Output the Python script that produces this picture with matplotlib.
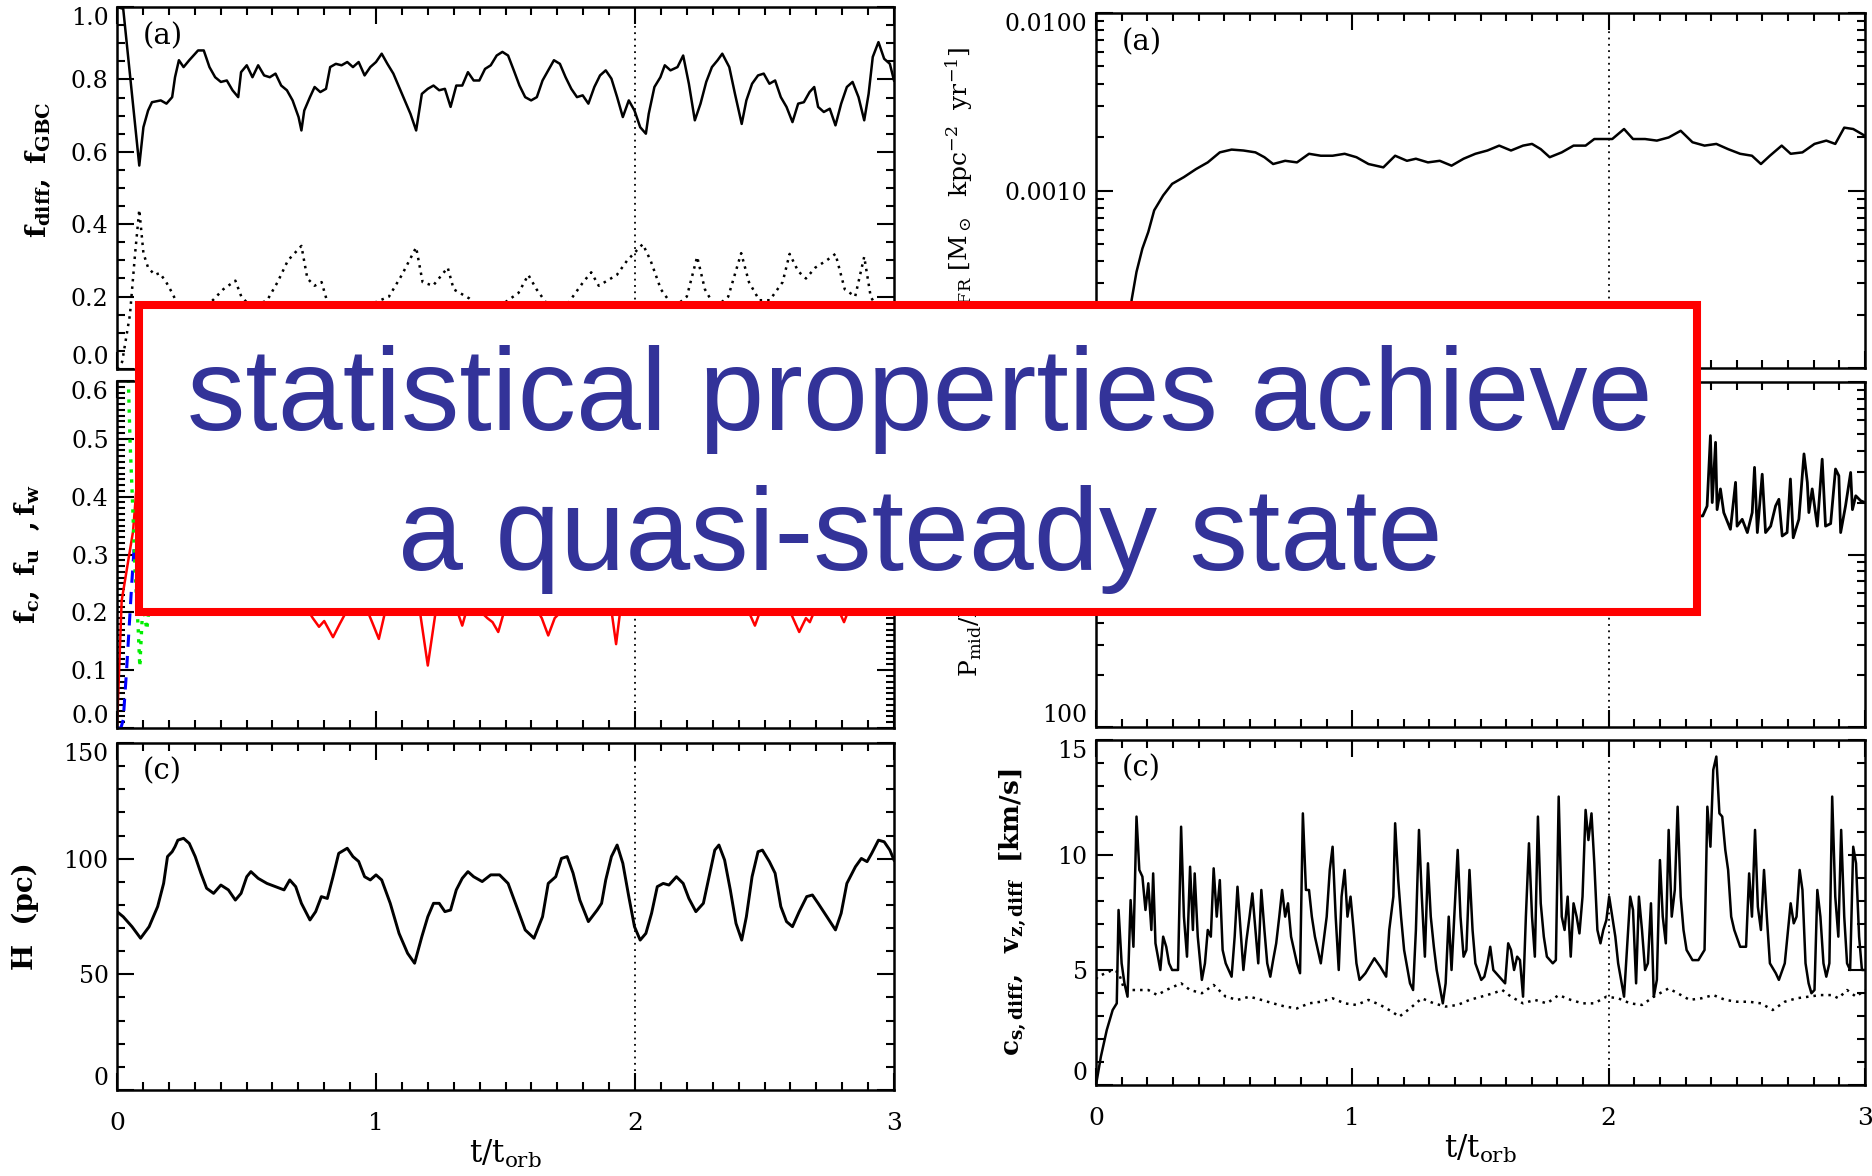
import numpy as np
import matplotlib
matplotlib.use('Agg')
import matplotlib.pyplot as plt
from matplotlib.patches import Rectangle
from matplotlib.ticker import FixedLocator, FuncFormatter

plt.rcParams['font.family'] = ['DejaVu Serif']
plt.rcParams['mathtext.fontset'] = 'dejavuserif'

# ---------------- data, time in units of t_orb ----------------
# left (a): f_diff (solid) and f_GBC (dotted)
fDiff = [(0.0, 1.0), (0.024, 0.995), (0.086, 0.562), (0.102, 0.668), (0.120, 0.714), (0.135, 0.737),
         (0.169, 0.742), (0.191, 0.733), (0.213, 0.751), (0.224, 0.806), (0.239, 0.853), (0.257, 0.834),
         (0.279, 0.853), (0.313, 0.880), (0.335, 0.880), (0.357, 0.834), (0.379, 0.806), (0.401, 0.793),
         (0.424, 0.797), (0.446, 0.770), (0.468, 0.751), (0.479, 0.820), (0.501, 0.839), (0.523, 0.806),
         (0.545, 0.839), (0.568, 0.811), (0.590, 0.806), (0.612, 0.816), (0.634, 0.783), (0.656, 0.770),
         (0.678, 0.742), (0.701, 0.696), (0.712, 0.659), (0.723, 0.714), (0.745, 0.751), (0.763, 0.779),
         (0.785, 0.765), (0.807, 0.774), (0.823, 0.834), (0.845, 0.843), (0.867, 0.839), (0.889, 0.848),
         (0.911, 0.834), (0.933, 0.848), (0.956, 0.811), (0.978, 0.834), (1.000, 0.848), (1.022, 0.871),
         (1.044, 0.843), (1.067, 0.816), (1.089, 0.779), (1.111, 0.742), (1.133, 0.705), (1.155, 0.659),
         (1.177, 0.760), (1.200, 0.774), (1.222, 0.783), (1.244, 0.770), (1.266, 0.774), (1.288, 0.724),
         (1.310, 0.783), (1.333, 0.783), (1.355, 0.820), (1.377, 0.797), (1.399, 0.797), (1.421, 0.829),
         (1.443, 0.839), (1.466, 0.866), (1.488, 0.876), (1.510, 0.866), (1.532, 0.825), (1.554, 0.783),
         (1.576, 0.751), (1.599, 0.742), (1.621, 0.751), (1.643, 0.797), (1.665, 0.825), (1.687, 0.853),
         (1.710, 0.843), (1.732, 0.806), (1.754, 0.774), (1.776, 0.751), (1.798, 0.756), (1.820, 0.733),
         (1.843, 0.779), (1.865, 0.811), (1.887, 0.825), (1.909, 0.802), (1.931, 0.751), (1.953, 0.696),
         (1.976, 0.742), (1.998, 0.714), (2.020, 0.668), (2.042, 0.650), (2.053, 0.705), (2.075, 0.779),
         (2.098, 0.806), (2.115, 0.839), (2.137, 0.825), (2.164, 0.834), (2.186, 0.866), (2.208, 0.788),
         (2.231, 0.687), (2.253, 0.733), (2.275, 0.793), (2.297, 0.834), (2.319, 0.853), (2.337, 0.871),
         (2.364, 0.834), (2.386, 0.760), (2.412, 0.677), (2.430, 0.742), (2.452, 0.788), (2.475, 0.811),
         (2.497, 0.816), (2.519, 0.788), (2.541, 0.797), (2.563, 0.751), (2.585, 0.724), (2.608, 0.682),
         (2.630, 0.733), (2.652, 0.737), (2.674, 0.765), (2.692, 0.779), (2.707, 0.724), (2.729, 0.710),
         (2.752, 0.719), (2.774, 0.673), (2.796, 0.733), (2.818, 0.779), (2.840, 0.793), (2.863, 0.751),
         (2.885, 0.687), (2.902, 0.760), (2.918, 0.862), (2.940, 0.903), (2.962, 0.857), (2.984, 0.843),
         (3.000, 0.797)]

fGbc = [(0.0, 0.0), (0.02, 0.02), (0.05, 0.15), (0.07, 0.32), (0.086, 0.44), (0.102, 0.32), (0.12, 0.28),
        (0.146, 0.26), (0.165, 0.265), (0.19, 0.24), (0.213, 0.21), (0.24, 0.17), (0.30, 0.15), (0.37, 0.19),
        (0.41, 0.22), (0.457, 0.244), (0.48, 0.20), (0.52, 0.17), (0.58, 0.19), (0.62, 0.24), (0.66, 0.30),
        (0.712, 0.34), (0.735, 0.25), (0.763, 0.23), (0.79, 0.24), (0.81, 0.19), (0.88, 0.15), (0.95, 0.17),
        (1.05, 0.20), (1.10, 0.26), (1.155, 0.336), (1.18, 0.24), (1.22, 0.23), (1.277, 0.28), (1.30, 0.22),
        (1.36, 0.195), (1.40, 0.17), (1.45, 0.16), (1.55, 0.21), (1.588, 0.26), (1.62, 0.22), (1.66, 0.18),
        (1.72, 0.16), (1.77, 0.21), (1.80, 0.24), (1.831, 0.267), (1.86, 0.23), (1.93, 0.26), (1.97, 0.30),
        (2.03, 0.345), (2.06, 0.30), (2.10, 0.22), (2.15, 0.17), (2.20, 0.20), (2.24, 0.31), (2.27, 0.22),
        (2.31, 0.17), (2.36, 0.20), (2.41, 0.32), (2.44, 0.24), (2.48, 0.19), (2.52, 0.19), (2.57, 0.24),
        (2.597, 0.318), (2.63, 0.27), (2.66, 0.25), (2.696, 0.28), (2.74, 0.30), (2.774, 0.318), (2.81, 0.22),
        (2.85, 0.20), (2.885, 0.31), (2.91, 0.20), (2.95, 0.15), (3.0, 0.17)]

# left (b): phase fractions
fRed = [(0.0, 0.0), (0.018, 0.22), (0.062, 0.34), (0.09, 0.50), (0.15, 0.35), (0.3, 0.28), (0.5, 0.25),
        (0.7, 0.23), (0.756, 0.19), (0.78, 0.175), (0.80, 0.185), (0.834, 0.157), (0.86, 0.18), (0.878, 0.195),
        (0.9, 0.23), (0.96, 0.21), (0.985, 0.183), (1.011, 0.154), (1.04, 0.21), (1.1, 0.24), (1.17, 0.20),
        (1.20, 0.108), (1.23, 0.20), (1.3, 0.22), (1.333, 0.177), (1.36, 0.22), (1.43, 0.19), (1.45, 0.183),
        (1.472, 0.166), (1.5, 0.21), (1.6, 0.22), (1.64, 0.19), (1.665, 0.16), (1.69, 0.19), (1.8, 0.24),
        (1.91, 0.20), (1.927, 0.145), (1.945, 0.21), (2.1, 0.26), (2.3, 0.25), (2.44, 0.20), (2.463, 0.177),
        (2.49, 0.21), (2.6, 0.20), (2.634, 0.166), (2.66, 0.19), (2.675, 0.183), (2.7, 0.21), (2.79, 0.20),
        (2.807, 0.183), (2.83, 0.21), (3.0, 0.23)]
fBlue = [(0.0, 0.0), (0.015, 0.0), (0.024, 0.014), (0.037, 0.10), (0.057, 0.25), (0.066, 0.31), (0.09, 0.33),
         (0.3, 0.29), (0.8, 0.27), (1.5, 0.28), (2.2, 0.27), (3.0, 0.28)]
fGreen = [(0.0, 1.0), (0.03, 0.75), (0.044, 0.60), (0.05, 0.50), (0.06, 0.39), (0.07, 0.27), (0.082, 0.17),
          (0.088, 0.106), (0.10, 0.215), (0.115, 0.17), (0.127, 0.22), (0.14, 0.30), (0.2, 0.40), (0.5, 0.45),
          (1.0, 0.46), (1.5, 0.45), (2.0, 0.46), (2.5, 0.45), (3.0, 0.45)]

# left (c): scale height H (pc)
hScale = [(0.0, 77.1), (0.024, 74.9), (0.058, 70.6), (0.091, 65.6), (0.124, 70.6), (0.157, 79.3), (0.180, 89.3),
          (0.195, 100.9), (0.213, 103.0), (0.224, 105.2), (0.235, 108.0), (0.257, 108.8), (0.279, 106.6),
          (0.302, 100.9), (0.324, 93.7), (0.346, 87.2), (0.373, 85.0), (0.401, 88.6), (0.430, 86.5), (0.457, 82.1),
          (0.479, 85.0), (0.501, 92.2), (0.517, 94.4), (0.545, 91.5), (0.579, 89.3), (0.612, 87.9), (0.645, 86.5),
          (0.667, 90.8), (0.690, 87.9), (0.712, 80.7), (0.745, 73.5), (0.767, 77.1), (0.789, 83.6), (0.812, 82.8),
          (0.834, 92.2), (0.856, 102.3), (0.889, 104.5), (0.911, 100.9), (0.933, 98.8), (0.956, 92.2), (0.978, 90.8),
          (1.000, 93.0), (1.022, 90.8), (1.055, 80.7), (1.089, 67.7), (1.122, 59.1), (1.149, 54.8), (1.177, 66.3),
          (1.200, 74.9), (1.222, 80.7), (1.244, 80.7), (1.266, 77.1), (1.288, 77.8), (1.310, 86.5), (1.333, 91.5),
          (1.355, 94.4), (1.377, 92.2), (1.410, 90.1), (1.443, 93.0), (1.477, 93.0), (1.510, 89.3), (1.543, 79.3),
          (1.576, 69.2), (1.610, 65.6), (1.643, 74.9), (1.665, 89.3), (1.694, 92.2), (1.716, 100.1), (1.738, 100.9),
          (1.761, 93.7), (1.787, 82.1), (1.820, 72.8), (1.854, 77.8), (1.871, 80.7), (1.887, 90.8), (1.909, 100.9),
          (1.931, 105.9), (1.953, 98.0), (1.976, 83.6), (1.998, 70.6), (2.020, 64.8), (2.042, 67.7), (2.064, 76.4),
          (2.086, 87.9), (2.109, 89.3), (2.131, 88.6), (2.160, 92.2), (2.186, 89.3), (2.208, 82.8), (2.235, 77.1),
          (2.264, 80.7), (2.286, 92.2), (2.308, 103.7), (2.324, 105.9), (2.346, 99.4), (2.368, 86.5), (2.390, 72.0),
          (2.412, 64.8), (2.430, 74.9), (2.452, 92.2), (2.475, 103.0), (2.492, 103.7), (2.519, 98.7), (2.541, 93.7),
          (2.563, 79.3), (2.585, 72.8), (2.608, 70.6), (2.634, 77.1), (2.663, 83.6), (2.685, 84.3), (2.707, 80.7),
          (2.741, 74.9), (2.774, 69.2), (2.796, 76.4), (2.818, 89.3), (2.851, 96.5), (2.874, 100.1), (2.896, 98.7),
          (2.914, 102.3), (2.940, 108.0), (2.962, 107.3), (2.984, 103.7), (3.000, 99.4)]

# right (a): star formation rate surface density
sfr = [(0.0, 1e-6), (0.08, 2e-5), (0.12, 1.2e-4), (0.139, 2.42e-4), (0.158, 3.48e-4), (0.181, 4.71e-4),
       (0.204, 5.84e-4), (0.227, 7.73e-4), (0.262, 9.38e-4), (0.297, 1.09e-3), (0.343, 1.19e-3), (0.390, 1.32e-3),
       (0.436, 1.44e-3), (0.483, 1.64e-3), (0.529, 1.70e-3), (0.575, 1.68e-3), (0.622, 1.64e-3), (0.657, 1.54e-3),
       (0.691, 1.41e-3), (0.738, 1.47e-3), (0.784, 1.44e-3), (0.831, 1.61e-3), (0.877, 1.57e-3), (0.923, 1.57e-3),
       (0.970, 1.61e-3), (1.016, 1.54e-3), (1.063, 1.41e-3), (1.121, 1.35e-3), (1.167, 1.57e-3), (1.213, 1.47e-3),
       (1.248, 1.51e-3), (1.295, 1.44e-3), (1.341, 1.47e-3), (1.387, 1.38e-3), (1.434, 1.51e-3), (1.480, 1.61e-3),
       (1.527, 1.68e-3), (1.573, 1.79e-3), (1.619, 1.68e-3), (1.666, 1.79e-3), (1.701, 1.83e-3), (1.735, 1.71e-3),
       (1.770, 1.54e-3), (1.817, 1.64e-3), (1.863, 1.79e-3), (1.910, 1.79e-3), (1.944, 1.95e-3), (1.979, 1.95e-3),
       (2.014, 1.95e-3), (2.060, 2.22e-3), (2.095, 1.95e-3), (2.142, 1.95e-3), (2.188, 1.91e-3), (2.234, 1.99e-3),
       (2.281, 2.17e-3), (2.327, 1.87e-3), (2.374, 1.79e-3), (2.420, 1.83e-3), (2.466, 1.71e-3), (2.513, 1.61e-3),
       (2.559, 1.57e-3), (2.594, 1.41e-3), (2.629, 1.57e-3), (2.675, 1.79e-3), (2.710, 1.61e-3), (2.756, 1.64e-3),
       (2.803, 1.83e-3), (2.849, 1.91e-3), (2.884, 1.83e-3), (2.919, 2.26e-3), (2.954, 2.22e-3), (2.988, 2.08e-3),
       (3.000, 2.03e-3)]

# right (b): midplane pressure
pMid = [(0.0, 3000), (0.15, 2500), (0.3, 1800), (0.6, 1500), (1.0, 1500), (1.4, 1600), (1.8, 1700), (2.1, 1800),
        (2.3, 1700), (2.367, 1672), (2.384, 1910), (2.397, 4890), (2.404, 2000), (2.417, 4470), (2.423, 1820),
        (2.436, 2400), (2.449, 1750), (2.475, 1400), (2.495, 2620), (2.501, 1460), (2.521, 1600), (2.541, 1340),
        (2.56, 1750), (2.569, 3200), (2.58, 1340), (2.599, 2920), (2.612, 1340), (2.632, 1460), (2.651, 1910),
        (2.664, 2090), (2.677, 1280), (2.696, 1340), (2.709, 2740), (2.72, 1250), (2.742, 1600), (2.762, 3830),
        (2.775, 2620), (2.781, 1750), (2.794, 2400), (2.814, 1460), (2.833, 3570), (2.846, 1460), (2.866, 1510),
        (2.885, 3130), (2.898, 2860), (2.905, 1340), (2.924, 1910), (2.944, 2990), (2.951, 1820), (2.964, 2190),
        (2.983, 2050), (3.0, 2000)]

# right (c): velocity dispersion v_z,diff (solid) and sound speed c_s,diff (dotted), km/s
vzDiff = [(0, 0), (.019, 1.23), (.042, 2.39), (.065, 3.26), (.081, 3.55), (.088, 7.61), (.100, 5.29), (.111, 4.42),
          (.123, 3.84), (.135, 8.04), (.146, 6.01), (.158, 11.67), (.169, 9.35), (.181, 9.06), (.193, 7.61),
          (.204, 8.77), (.216, 6.74), (.223, 9.20), (.232, 6.16), (.251, 5.00), (.262, 6.45), (.274, 6.01),
          (.285, 5.29), (.297, 5.00), (.309, 5.00), (.320, 5.00), (.332, 11.23), (.343, 7.32), (.355, 5.58),
          (.367, 9.49), (.378, 6.74), (.385, 9.20), (.397, 6.45), (.413, 4.57), (.425, 5.29), (.436, 6.74),
          (.448, 6.45), (.459, 9.42), (.471, 7.32), (.483, 8.91), (.494, 5.87), (.506, 5.29), (.529, 4.71),
          (.541, 6.45), (.552, 8.62), (.564, 6.74), (.575, 5.00), (.587, 6.30), (.599, 7.32), (.610, 8.33),
          (.622, 6.74), (.633, 5.29), (.645, 8.48), (.657, 6.74), (.668, 5.29), (.680, 4.71), (.691, 5.43),
          (.703, 6.16), (.715, 7.32), (.726, 8.48), (.738, 7.32), (.749, 7.90), (.761, 6.45), (.784, 5.29),
          (.796, 4.86), (.807, 11.81), (.819, 8.48), (.831, 8.48), (.842, 7.32), (.854, 6.45), (.877, 5.29),
          (.900, 7.32), (.912, 9.35), (.923, 10.36), (.935, 7.32), (.947, 5.00), (.958, 8.19), (.970, 9.35),
          (.981, 7.32), (.993, 8.19), (1.005, 6.74), (1.016, 5.29), (1.028, 4.57), (1.051, 4.86), (1.074, 5.29),
          (1.086, 5.51), (1.109, 5.14), (1.132, 4.71), (1.144, 6.74), (1.160, 8.19), (1.167, 11.38), (1.179, 8.91),
          (1.190, 7.32), (1.202, 5.87), (1.225, 4.42), (1.237, 4.13), (1.248, 6.74), (1.260, 11.09), (1.271, 8.19),
          (1.283, 5.58), (1.295, 9.64), (1.306, 7.32), (1.318, 6.01), (1.329, 5.00), (1.341, 4.28), (1.353, 3.55),
          (1.364, 4.42), (1.376, 7.32), (1.387, 5.00), (1.411, 10.22), (1.422, 7.32), (1.434, 5.58), (1.445, 5.87),
          (1.457, 9.35), (1.469, 6.74), (1.480, 5.29), (1.503, 4.57), (1.515, 4.71), (1.527, 5.29), (1.538, 6.01),
          (1.550, 5.00), (1.573, 4.71), (1.596, 4.42), (1.608, 6.16), (1.619, 5.87), (1.631, 5.00), (1.643, 5.58),
          (1.654, 5.43), (1.666, 3.84), (1.677, 7.32), (1.689, 10.51), (1.701, 7.32), (1.712, 5.58), (1.724, 11.67),
          (1.735, 7.90), (1.747, 6.45), (1.759, 5.58), (1.782, 5.29), (1.794, 5.43), (1.805, 12.54), (1.817, 7.32),
          (1.828, 6.74), (1.840, 8.19), (1.852, 5.58), (1.863, 7.90), (1.875, 7.32), (1.886, 6.59), (1.898, 8.19),
          (1.910, 11.96), (1.921, 10.65), (1.933, 11.81), (1.944, 9.64), (1.956, 6.74), (1.968, 6.16), (1.979, 6.74),
          (1.991, 7.17), (2.002, 8.19), (2.014, 7.32), (2.026, 6.45), (2.037, 5.29), (2.060, 3.84), (2.084, 8.19),
          (2.095, 7.61), (2.107, 4.42), (2.118, 8.19), (2.130, 6.74), (2.142, 5.00), (2.153, 5.29), (2.165, 7.90),
          (2.176, 3.84), (2.188, 4.57), (2.200, 9.78), (2.211, 7.32), (2.223, 6.16), (2.234, 11.09), (2.246, 7.32),
          (2.258, 8.48), (2.269, 12.10), (2.281, 8.19), (2.292, 6.74), (2.304, 5.87), (2.327, 5.43), (2.350, 5.43),
          (2.374, 5.87), (2.385, 12.10), (2.397, 10.36), (2.408, 13.70), (2.420, 14.28), (2.432, 11.81),
          (2.443, 11.67), (2.455, 10.22), (2.466, 9.35), (2.478, 7.32), (2.490, 6.74), (2.513, 6.01), (2.536, 6.01),
          (2.548, 9.20), (2.559, 7.32), (2.571, 11.09), (2.582, 7.75), (2.594, 6.74), (2.606, 9.35), (2.617, 7.32),
          (2.629, 5.29), (2.652, 4.86), (2.664, 4.57), (2.687, 5.29), (2.710, 7.90), (2.722, 7.03), (2.733, 7.32),
          (2.745, 9.35), (2.756, 8.48), (2.768, 5.29), (2.780, 4.42), (2.791, 3.99), (2.803, 4.13), (2.814, 8.48),
          (2.826, 7.32), (2.838, 5.29), (2.849, 4.71), (2.861, 5.29), (2.872, 12.54), (2.884, 8.19), (2.896, 6.45),
          (2.907, 11.09), (2.919, 7.32), (2.930, 5.29), (2.942, 5.00), (2.954, 10.36), (2.965, 9.64), (2.977, 6.45),
          (2.988, 5.00), (3.000, 5.00)]
csDiff = [(0.0, 4.6), (.007, 4.71), (.065, 5.0), (.088, 4.9), (.111, 4.13), (.158, 4.13), (.204, 4.13), (.239, 3.91),
          (.274, 4.13), (.332, 4.42), (.367, 4.13), (.413, 3.99), (.459, 4.35), (.506, 3.84), (.552, 3.70),
          (.599, 3.84), (.645, 3.70), (.691, 3.55), (.738, 3.41), (.784, 3.33), (.831, 3.55), (.877, 3.62),
          (.923, 3.77), (.970, 3.55), (1.016, 3.48), (1.063, 3.70), (1.109, 3.48), (1.155, 3.19), (1.183, 2.97),
          (1.225, 3.33), (1.271, 3.77), (1.318, 3.55), (1.364, 3.41), (1.411, 3.48), (1.457, 3.70), (1.503, 3.84),
          (1.550, 3.99), (1.585, 4.13), (1.619, 3.84), (1.666, 3.55), (1.712, 3.70), (1.759, 3.55), (1.805, 3.91),
          (1.852, 3.70), (1.898, 3.55), (1.944, 3.55), (1.991, 3.84), (2.037, 3.77), (2.084, 3.55), (2.130, 3.48),
          (2.176, 3.84), (2.234, 4.20), (2.269, 3.99), (2.316, 3.70), (2.362, 3.77), (2.408, 3.91), (2.455, 3.70),
          (2.501, 3.62), (2.548, 3.62), (2.594, 3.55), (2.640, 3.26), (2.687, 3.62), (2.733, 3.77), (2.780, 3.84),
          (2.826, 3.91), (2.872, 3.91), (2.896, 3.77), (2.930, 4.13), (2.965, 3.84), (3.0, 4.13)]

# ---------------- figure ----------------
W, H = 1872, 1176
fig = plt.figure(figsize=(W / 100, H / 100), dpi=100)


def pxAxes(x0, y0, x1, y1):
    return fig.add_axes([x0 / W, 1 - y1 / H, (x1 - x0) / W, (y1 - y0) / H])


def styleAxes(ax, yMajor, yMinor, fmt, bottomRow=False, log=False, ylim=None):
    if log:
        ax.set_yscale('log')
    ax.set_xlim(0, 3)
    ax.set_ylim(*ylim)
    ax.xaxis.set_major_locator(FixedLocator([0, 1, 2, 3]))
    ax.xaxis.set_minor_locator(FixedLocator(np.arange(0, 3.01, 0.1)))
    ax.yaxis.set_major_locator(FixedLocator(yMajor))
    ax.yaxis.set_minor_locator(FixedLocator(yMinor))
    ax.yaxis.set_major_formatter(FuncFormatter(lambda v, p: fmt % v))
    ax.tick_params(which='both', direction='in', top=True, right=True, width=1.5, labelsize=17)
    ax.tick_params(which='major', length=12)
    ax.tick_params(which='minor', length=6)
    ax.tick_params(axis='x', pad=16, labelbottom=bottomRow, labelsize=18)
    ax.tick_params(axis='y', pad=6)
    for s in ax.spines.values():
        s.set_linewidth(1.8)
    ticks = ax.yaxis.get_major_ticks()
    ticks[0].label1.set_verticalalignment('bottom')
    ticks[-1].label1.set_verticalalignment('top')
    ax.axvline(2, color='k', lw=1.3, ls=(0, (1, 2.5)))
    if bottomRow:
        ax.set_xlabel(r'$\mathrm{t/t_{orb}}$', fontsize=22, labelpad=2)


def panelLabel(ax, txt):
    ax.text(0.033, 0.958, txt, transform=ax.transAxes, ha='left', va='top', fontsize=21)


def plotSeries(ax, data, **kw):
    arr = np.array(data, dtype=float)
    ax.plot(arr[:, 0], arr[:, 1], **kw)


logMinor = lambda lo, hi: [m * 10.0 ** e for e in range(lo, hi) for m in range(2, 10)]

# left column
axA = pxAxes(117, 7, 894, 369)
plotSeries(axA, fDiff, color='k', lw=1.8)
plotSeries(axA, fGbc, color='k', lw=1.8, ls=(0, (1, 2)))
styleAxes(axA, [0, 0.2, 0.4, 0.6, 0.8, 1.0], np.arange(0, 1.001, 0.05), '%.1f', ylim=(0, 1))
axA.set_ylabel(r'$\mathbf{f_{diff},\ f_{GBC}}$', fontsize=20)
axA.yaxis.set_label_coords(-0.082, 0.55)
panelLabel(axA, '(a)')

axB = pxAxes(117, 381, 894, 728)
plotSeries(axB, fRed, color='#ff0000', lw=1.8)
plotSeries(axB, fBlue, color='#0000ff', lw=2.2, ls=(0, (4, 3)))
plotSeries(axB, fGreen, color='#00ee00', lw=2.4, ls=(0, (1, 2)))
styleAxes(axB, [0, 0.1, 0.2, 0.3, 0.4, 0.5, 0.6], np.arange(0, 0.601, 0.01), '%.1f', ylim=(0, 0.6))
axB.set_ylabel(r'$\mathbf{f_c,\ f_u\ \ ,f_w}$', fontsize=20)
axB.yaxis.set_label_coords(-0.096, 0.5)
panelLabel(axB, '(b)')

axC = pxAxes(117, 743, 894, 1090)
plotSeries(axC, hScale, color='k', lw=2.1)
styleAxes(axC, [0, 50, 100, 150], np.arange(0, 151, 10), '%d', bottomRow=True, ylim=(0, 150))
axC.set_ylabel('H  (pc)', fontsize=20, fontweight='bold')
axC.yaxis.set_label_coords(-0.1, 0.5)
panelLabel(axC, '(c)')

# right column
axD = pxAxes(1096, 13, 1865, 368)
plotSeries(axD, sfr, color='k', lw=1.8)
styleAxes(axD, [1e-4, 1e-3, 1e-2], logMinor(-4, -2), '%.4f', log=True, ylim=(1e-4, 1e-2))
axD.set_ylabel(r'$\Sigma_{\rm SFR}\ [{\rm M}_\odot\ \ {\rm kpc}^{-2}\ \ {\rm yr}^{-1}]$', fontsize=18)
axD.yaxis.set_label_coords(-0.157, 0.5)
panelLabel(axD, '(a)')

axE = pxAxes(1096, 382, 1865, 727)
plotSeries(axE, pMid, color='k', lw=2.0)
styleAxes(axE, [1e2, 1e3, 1e4], logMinor(2, 4), '%d', log=True, ylim=(1e2, 1e4))
axE.set_ylabel(r'${\rm P_{mid}/k_B}\ \ [{\rm K\ cm^{-3}}]$', fontsize=18)
axE.yaxis.set_label_coords(-0.145, 0.455)
panelLabel(axE, '(b)')

axF = pxAxes(1096, 740, 1865, 1085)
plotSeries(axF, vzDiff, color='k', lw=1.8)
plotSeries(axF, csDiff, color='k', lw=1.8, ls=(0, (1, 2)))
styleAxes(axF, [0, 5, 10, 15], np.arange(0, 15.01, 1), '%d', bottomRow=True, ylim=(0, 15))
axF.set_ylabel(r'$\mathbf{c_{s,diff},\ \ v_{z,diff}\ \ [km/s]}$', fontsize=19)
axF.yaxis.set_label_coords(-0.088, 0.5)
panelLabel(axF, '(c)')

# overlay box with the slide message
box = Rectangle((139 / W, 1 - 612 / H), (1697 - 139) / W, (612 - 305) / H, transform=fig.transFigure,
                facecolor='white', edgecolor='#ff0000', lw=5.8, zorder=20)
fig.add_artist(box)
fig.text(920 / W, 1 - 430 / H, 'statistical properties achieve', ha='center', va='baseline',
         fontsize=84, color='#333399', family='Liberation Sans', zorder=21)
fig.text(920 / W, 1 - 570 / H, 'a quasi-steady state', ha='center', va='baseline',
         fontsize=84, color='#333399', family='Liberation Sans', zorder=21)

fig.savefig('out.png', dpi=100)
